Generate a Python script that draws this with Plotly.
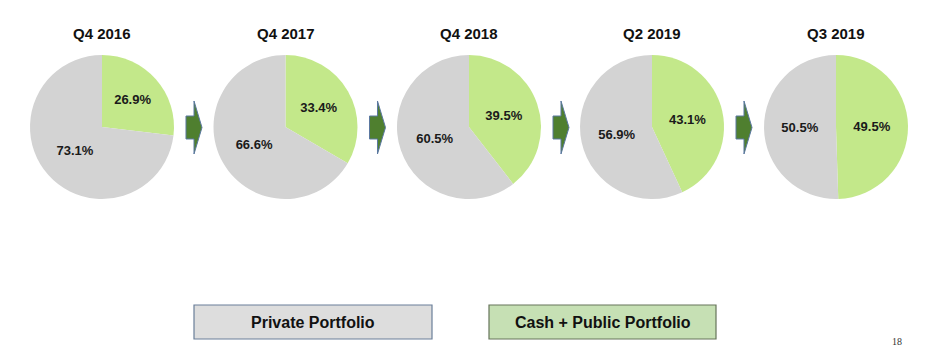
import plotly.graph_objects as go

# ---- data ----
periods = ["Q4 2016", "Q4 2017", "Q4 2018", "Q2 2019", "Q3 2019"]
cash_public = [26.9, 33.4, 39.5, 43.1, 49.5]
private = [73.1, 66.6, 60.5, 56.9, 50.5]
series_names = ["Cash + Public Portfolio", "Private Portfolio"]
page_number = "18"

W, H = 933, 359
OFF = 8  # page body margin in the browser
GREEN = "#C3E88A"
GREY = "#D3D3D3"
FONT = "Arial, Liberation Sans, sans-serif"


def px(x):
    return (x - OFF) / W


def py(y):
    return 1 - (y - OFF) / H


centers_x = [102, 285.5, 469, 652, 836]
cy, rad = 127, 72

fig = go.Figure()
for i, name in enumerate(periods):
    cx = centers_x[i]
    fig.add_trace(go.Pie(
        values=[cash_public[i], private[i]],
        labels=series_names,
        sort=False,
        direction="clockwise",
        rotation=0,
        marker=dict(colors=[GREEN, GREY], line=dict(width=0)),
        texttemplate="%{value:.1f}%",
        textposition="inside",
        insidetextorientation="horizontal",
        textfont=dict(family=FONT, size=13, color="#1a1a1a", weight="bold"),
        hoverinfo="label+value",
        showlegend=False,
        domain=dict(x=[px(cx - rad), px(cx + rad)], y=[py(cy + rad), py(cy - rad)]),
    ))
    fig.add_annotation(x=px(cx), y=py(33), xref="paper", yref="paper",
                       text="<b>%s</b>" % name, showarrow=False,
                       font=dict(family=FONT, size=15, color="#111111"),
                       xanchor="center", yanchor="middle")

# arrows between pies
shapes = []
for i in range(len(periods) - 1):
    x0 = centers_x[i] + 84
    bx1 = x0 + 8
    tip = x0 + 16
    yt, yb = 101, 154
    ym = (yt + yb) / 2
    by0, by1 = 116, 139
    pts = [(x0, by0), (bx1, by0), (bx1, yt), (tip, ym), (bx1, yb), (bx1, by1), (x0, by1)]
    path = "M " + " L ".join("%.5f,%.5f" % (px(a), py(b)) for a, b in pts) + " Z"
    shapes.append(dict(type="path", path=path, xref="paper", yref="paper",
                       fillcolor="#4F7F2F", line=dict(color="#5B78A0", width=1)))

# legend boxes
shapes.append(dict(type="rect", xref="paper", yref="paper",
                   x0=px(194), x1=px(432), y0=py(339), y1=py(305),
                   fillcolor="#DDDDDD", line=dict(color="#6A7F99", width=1.2)))
shapes.append(dict(type="rect", xref="paper", yref="paper",
                   x0=px(489), x1=px(716), y0=py(339), y1=py(305),
                   fillcolor="#C6E0B4", line=dict(color="#66745A", width=1.2)))
fig.add_annotation(x=px(313), y=py(322), xref="paper", yref="paper",
                   text="<b>%s</b>" % series_names[1], showarrow=False,
                   xanchor="center", yanchor="middle",
                   font=dict(family=FONT, size=16, color="#111111"))
fig.add_annotation(x=px(602.5), y=py(322), xref="paper", yref="paper",
                   text="<b>%s</b>" % series_names[0], showarrow=False,
                   xanchor="center", yanchor="middle",
                   font=dict(family=FONT, size=16, color="#111111"))
fig.add_annotation(x=px(897), y=py(341), xref="paper", yref="paper",
                   text=page_number, showarrow=False,
                   xanchor="center", yanchor="middle",
                   font=dict(family="Liberation Serif, Times New Roman, serif", size=10, color="#333333"))

fig.update_layout(width=W, height=H, margin=dict(l=0, r=0, t=0, b=0),
                  paper_bgcolor="white", plot_bgcolor="white", shapes=shapes)
fig.write_html("out.html")
